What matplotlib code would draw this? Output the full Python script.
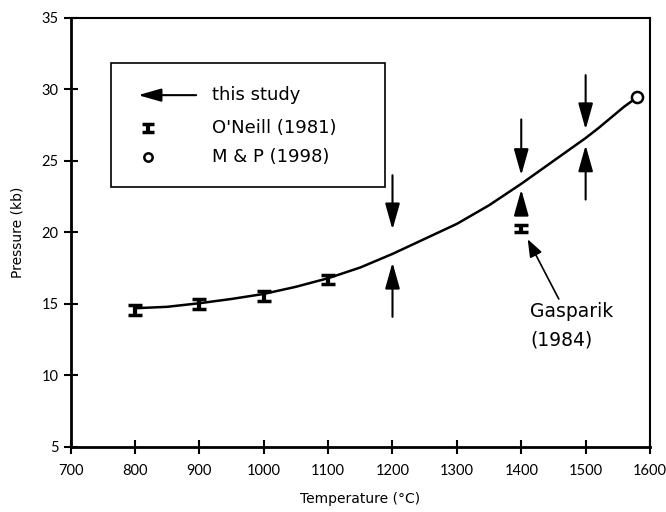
import matplotlib.pyplot as plt
from matplotlib.patches import Rectangle

plt.rcParams['font.family'] = ['Lato', 'DejaVu Sans']

# O'Neill (1981) data points
oneill_t = [800, 900, 1000, 1100]
oneill_p = [14.55, 15.0, 15.55, 16.7]
oneill_err = [0.35, 0.35, 0.35, 0.3]

# Gasparik (1984)
gasp_t = [1400]
gasp_p = [20.25]
gasp_err = [0.25]

# M & P (1998)
mp_t = [1580]
mp_p = [29.45]

# fitted curve
curve_t = [800, 850, 900, 950, 1000, 1050, 1100, 1150, 1200, 1250, 1300,
           1350, 1400, 1450, 1500, 1520, 1540, 1560, 1580]
curve_p = [14.7, 14.8, 15.05, 15.35, 15.7, 16.2, 16.8, 17.55, 18.5, 19.55,
           20.6, 21.9, 23.4, 25.0, 26.6, 27.3, 28.05, 28.8, 29.45]

# this study: bracketing arrows (T, tail P, tip P)
arrows_down = [(1200, 24.0, 20.2), (1400, 27.9, 24.0), (1500, 31.0, 27.2)]
arrows_up = [(1200, 14.1, 17.9), (1400, 21.4, 23.0), (1500, 22.3, 26.1)]

fig = plt.figure(figsize=(6.66, 5.12), dpi=100)
ax = fig.add_axes([0.106, 0.127, 0.87, 0.838])

ax.plot(curve_t, curve_p, color='black', lw=1.8, zorder=2)
ax.errorbar(oneill_t, oneill_p, yerr=oneill_err, fmt='none', ecolor='black',
            elinewidth=3, capsize=5, capthick=2.5, zorder=3)
ax.errorbar(gasp_t, gasp_p, yerr=gasp_err, fmt='none', ecolor='black',
            elinewidth=3, capsize=5, capthick=2.5, zorder=3)
ax.plot(mp_t, mp_p, 'o', ms=8, mfc='white', mec='black', mew=1.8, zorder=4)

arrow_style = dict(arrowstyle='-|>,head_width=0.45,head_length=1.6',
                   color='black', lw=1.5, shrinkA=0, shrinkB=0)
for t, p0, p1 in arrows_down + arrows_up:
    ax.annotate('', xy=(t, p1), xytext=(t, p0), arrowprops=arrow_style)

ax.annotate('Gasparik\n(1984)', xy=(1408, 19.7), xytext=(1414, 15.15),
            fontsize=13.5, family='DejaVu Sans', ha='left', va='top',
            linespacing=1.65,
            arrowprops=dict(arrowstyle='-|>,head_width=0.3,head_length=0.8',
                            color='black', lw=1.2, shrinkA=0, shrinkB=2,
                            relpos=(0.36, 1.0)))

# legend box
ax.add_patch(Rectangle((762, 23.2), 426, 8.65, fill=False, ec='black',
                       lw=1.2, zorder=5))
ax.annotate('', xy=(805, 29.6), xytext=(895, 29.6),
            arrowprops=dict(arrowstyle='-|>,head_width=0.4,head_length=1.4',
                            color='black', lw=1.5, shrinkA=0, shrinkB=0))
ax.errorbar([820], [27.3], yerr=[0.25], fmt='none', ecolor='black',
            elinewidth=3, capsize=4, capthick=2.5)
ax.plot([820], [25.3], 'o', ms=6, mfc='white', mec='black', mew=1.8)
for y, s in [(29.6, 'this study'), (27.3, "O'Neill (1981)"),
             (25.3, 'M & P (1998)')]:
    ax.text(920, y, s, fontsize=13, family='DejaVu Sans', va='center')

ax.set_xlim(700, 1600)
ax.set_ylim(5, 35)
ax.set_xticks(range(700, 1601, 100))
ax.set_yticks(range(5, 36, 5))
ax.tick_params(direction='inout', length=10, width=1.5, labelsize=10.5,
               top=False, right=False)
ax.tick_params(axis='x', pad=7)
for side in ['left', 'bottom']:
    ax.spines[side].set_linewidth(2)
for side in ['top', 'right']:
    ax.spines[side].set_linewidth(1.5)

ax.set_xlabel('Temperature (°C)', fontsize=10, family='DejaVu Sans',
              labelpad=10)
ax.set_ylabel('Pressure (kb)', fontsize=10, family='DejaVu Sans',
              labelpad=12)

fig.savefig('out.png', dpi=100)
